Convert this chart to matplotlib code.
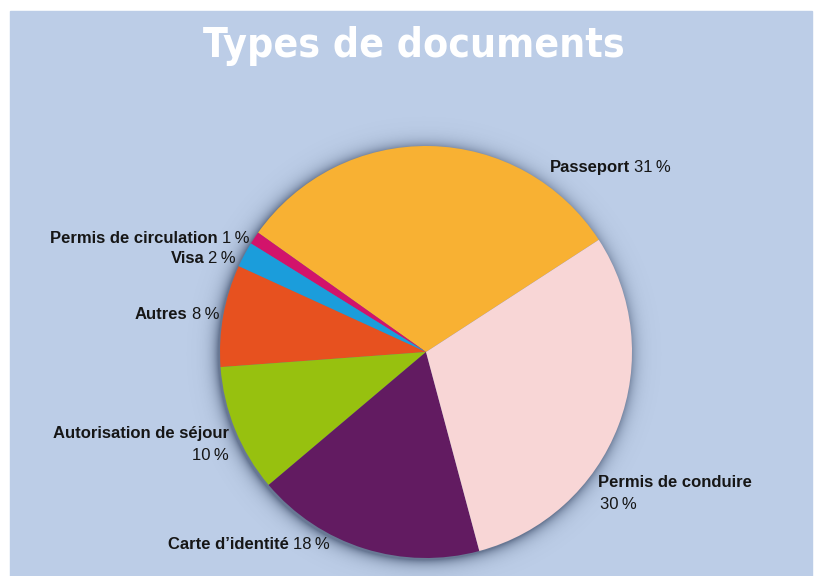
import numpy as np
import matplotlib
matplotlib.use("Agg")
import matplotlib.pyplot as plt
from matplotlib import font_manager
from matplotlib.patches import Rectangle

# Répartition des types de documents (%)
labels = ["Passeport", "Permis de circulation", "Visa", "Autres",
          "Autorisation de séjour", "Carte d\u2019identité", "Permis de conduire"]
shares = [31, 1, 2, 8, 10, 18, 30]
colors = ["#f8b133", "#d2136b", "#1b9ddb", "#e7511f",
          "#97c10f", "#621b61", "#f8d6d6"]

title = "Types de documents"

W, H = 816, 576
bg = "#bccde7"
cx, cy, r = 426, H - 352, 206

# (x, ligne de base en pixels depuis le haut, alignement, sur deux lignes ?)
label_pos = {
    "Passeport": (550, 172, "left", False),
    "Permis de circulation": (249, 243, "right", False),
    "Visa": (236, 263, "right", False),
    "Autres": (219, 319, "right", False),
    "Autorisation de séjour": (229, 438, "right", True),
    "Carte d\u2019identité": (168, 549, "left", False),
    "Permis de conduire": (598, 487, "left", True),
}


def narrow_bold_font():
    # cherche une police étroite en gras, sinon None
    for f in font_manager.fontManager.ttflist:
        narrow = ("Narrow" in f.name or "Condensed" in f.name
                  or "condensed" in str(f.stretch))
        if narrow and f.weight in ("bold", 700, "700"):
            return f.fname
    return None


fig = plt.figure(figsize=(W / 100, H / 100), dpi=100, facecolor="white")
ax = fig.add_axes([0, 0, 1, 1])

ax.add_patch(Rectangle((10, 0), 802, H - 11, color=bg, zorder=0))

# ombre douce autour du camembert
yy, xx = np.mgrid[0:H, 0:W] + 0.5
d = np.hypot(xx - (cx - 2), yy - (cy - 2)) - r
alpha = np.where(d < 0, 0.5, 0.5 * np.exp(-np.clip(d, 0, None) / 6.5))
shadow = np.zeros((H, W, 4))
shadow[..., :3] = np.array([20, 35, 65]) / 255
shadow[..., 3] = alpha
ax.imshow(shadow, extent=(0, W, 0, H), origin="lower", zorder=1,
          interpolation="bilinear")

ax.pie(shares, colors=colors, startangle=33, counterclock=True,
       center=(cx, cy), radius=r, frame=True,
       wedgeprops=dict(linewidth=0, antialiased=True, zorder=2))
ax.set_xlim(0, W)
ax.set_ylim(0, H)
ax.set_aspect("equal")
ax.axis("off")

fig.canvas.draw()
renderer = fig.canvas.get_renderer()

# titre : police étroite si disponible, taille ajustée à la largeur voulue
title_file = narrow_bold_font()
if title_file:
    tprops = font_manager.FontProperties(fname=title_file, size=38)
else:
    tprops = font_manager.FontProperties(family="Liberation Sans", weight="bold", size=38)
tt = ax.text(203, H - 57, title, color="white", ha="left", va="baseline",
             fontproperties=tprops)
w = tt.get_window_extent(renderer).width
tt.set_fontsize(38 * min(1.0, 422 / w))

bold_font = dict(family=["Liberation Sans", "DejaVu Sans"], weight="bold", size=12)
num_font = dict(family=["Liberation Sans", "DejaVu Sans"], weight="normal", size=12)
ink = "#161616"

for lab, val in zip(labels, shares):
    x, yb, ha, two_lines = label_pos[lab]
    y = H - yb
    num = f"{val}\u2009%"
    if two_lines:
        ax.text(x, y, lab, ha=ha, va="baseline", color=ink, **bold_font)
        ax.text(x + (2 if ha == "left" else 0), y - 22, num, ha=ha,
                va="baseline", color=ink, **num_font)
    elif ha == "left":
        t = ax.text(x, y, lab, ha="left", va="baseline", color=ink, **bold_font)
        bb = t.get_window_extent(renderer)
        ax.text(bb.x1 + 4, y, num, ha="left", va="baseline", color=ink, **num_font)
    else:
        t = ax.text(x, y, num, ha="right", va="baseline", color=ink, **num_font)
        bb = t.get_window_extent(renderer)
        ax.text(bb.x0 - 4, y, lab, ha="right", va="baseline", color=ink, **bold_font)

fig.savefig("out.png", dpi=100, facecolor="white")
